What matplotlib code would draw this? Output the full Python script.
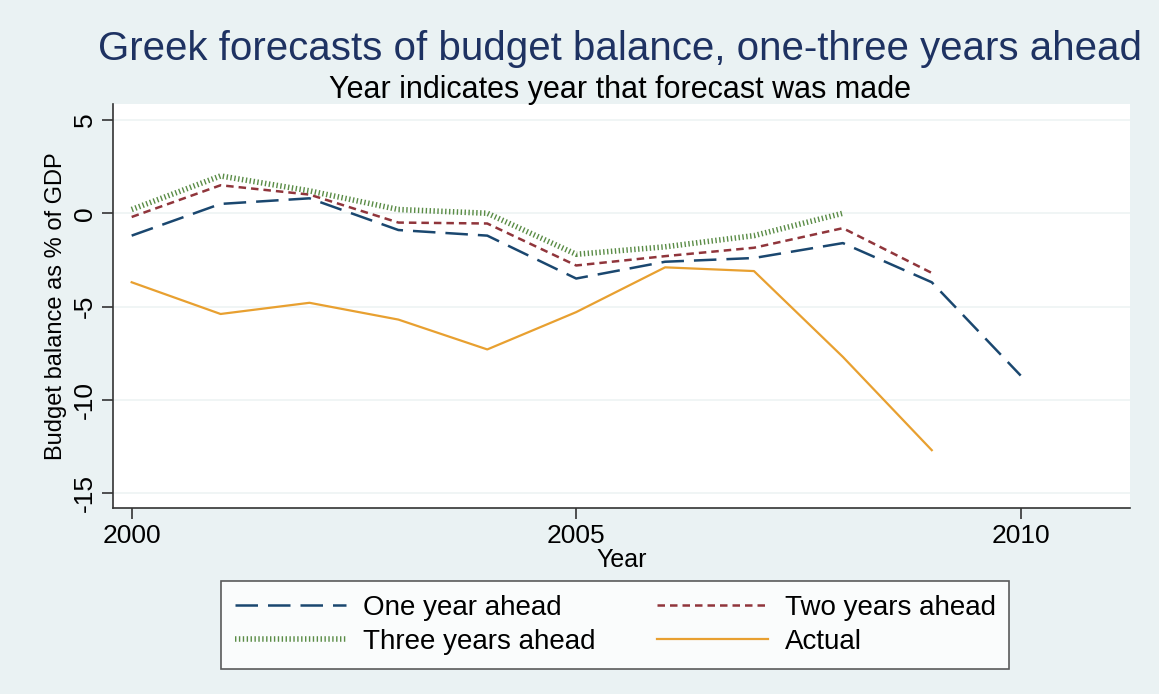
import numpy as np
import matplotlib
matplotlib.use('Agg')
import matplotlib.pyplot as plt

plt.rcParams['font.family'] = ['Liberation Sans', 'DejaVu Sans']
plt.rcParams['axes.unicode_minus'] = False

years = [2000, 2001, 2002, 2003, 2004, 2005, 2006, 2007, 2008, 2009, 2010]
one_year = [-1.2, 0.5, 0.8, -0.9, -1.2, -3.5, -2.6, -2.4, -1.6, -3.7, -8.7]
two_years = [-0.2, 1.5, 1.0, -0.5, -0.55, -2.8, -2.3, -1.85, -0.8, -3.2, np.nan]
three_years = [0.2, 2.0, 1.2, 0.2, 0.0, -2.2, -1.8, -1.2, 0.0, np.nan, np.nan]
actual = [-3.7, -5.4, -4.8, -5.7, -7.3, -5.3, -2.9, -3.1, -7.7, -12.7, np.nan]

bg = '#eaf2f3'
fig = plt.figure(figsize=(11.59, 6.94), dpi=100, facecolor=bg)
ax = fig.add_axes([0.0975, 0.268, 0.8775, 0.582])
ax.set_facecolor('white')

l1, = ax.plot(years, one_year, color='#1a476f', lw=1.8, dashes=(9, 4), label='One year ahead')
l2, = ax.plot(years, two_years, color='#90353b', lw=1.8, dashes=(3, 2), label='Two years ahead')
l3, = ax.plot(years, three_years, color='#5a8c46', lw=4, dashes=(0.25, 0.45), label='Three years ahead')
l4, = ax.plot(years, actual, color='#e8a030', lw=1.6, label='Actual')

ax.set_xlim(1999.79, 2011.23)
ax.set_ylim(-15.8, 5.85)
ax.set_yticks([5, 0, -5, -10, -15])
ax.set_xticks([2000, 2005, 2010])
ax.grid(axis='y', color='#eef3f3', lw=1.2)
ax.set_axisbelow(True)
for s in ['top', 'right']:
    ax.spines[s].set_visible(False)
for s in ['left', 'bottom']:
    ax.spines[s].set_color('#333333')
    ax.spines[s].set_linewidth(1.2)
ax.tick_params(axis='both', labelsize=19, length=8, width=1.2, color='#333333')
plt.setp(ax.get_yticklabels(), rotation=90, va='center')

ax.set_xlabel('Year', fontsize=18, labelpad=0)
ax.set_ylabel('Budget balance as % of GDP', fontsize=17, labelpad=4)

fig.text(0.535, 0.929, 'Greek forecasts of budget balance, one-three years ahead',
         ha='center', va='center', fontsize=29, color='#1e3262')
fig.text(0.535, 0.871, 'Year indicates year that forecast was made',
         ha='center', va='center', fontsize=22, color='black')

# reorder so the legend reads row by row
leg = fig.legend([l1, l3, l2, l4], [l.get_label() for l in [l1, l3, l2, l4]],
                 loc='center', bbox_to_anchor=(0.531, 0.0995), ncol=2, fontsize=20,
                 frameon=True, fancybox=False, edgecolor='#333333',
                 handlelength=4.0, handletextpad=0.6, columnspacing=2.2,
                 borderpad=0.5, borderaxespad=0, labelspacing=0.3)
leg.get_frame().set_linewidth(1.2)
leg.get_frame().set_facecolor('white')

fig.savefig('out.png', dpi=100, facecolor=bg)
